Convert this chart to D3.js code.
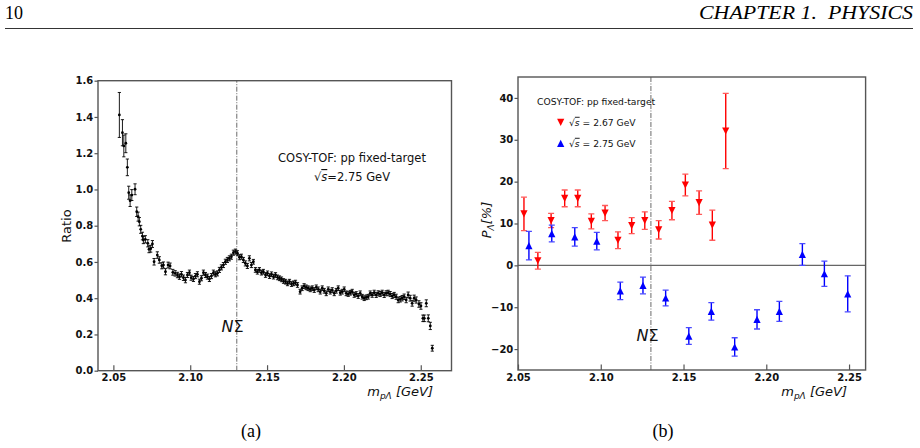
<!DOCTYPE html>
<html>
<head>
<meta charset="utf-8">
<script src="https://cdn.jsdelivr.net/npm/d3@7"></script>
<style>
  body { margin: 0; background: #fff; }
  svg { display: block; }
  text { font-family: "DejaVu Sans", sans-serif; }
</style>
</head>
<body>
<svg id="chart" width="920" height="448"></svg>
<script>
// (a) ratio vs p-Lambda invariant mass
const ratioMass = [2.0539, 2.0559, 2.0568, 2.0581, 2.0591, 2.0600, 2.0609, 2.0620,
  2.0641, 2.0652, 2.0661, 2.0669, 2.0678, 2.0689, 2.0695, 2.0708, 2.0724, 2.0732, 2.0743, 2.0754, 2.0765,
  2.0786, 2.0799, 2.0815, 2.0826, 2.0839, 2.0856, 2.0869,
  2.0887, 2.0902, 2.0917, 2.0930, 2.0943, 2.0956, 2.0969, 2.0982, 2.0995, 2.1006,
  2.1021, 2.1034, 2.1047, 2.1060, 2.1073, 2.1086, 2.1099, 2.1112, 2.1125, 2.1138,
  2.1151, 2.1164, 2.1177, 2.1190, 2.1203, 2.1216, 2.1229, 2.1242, 2.1255, 2.1268,
  2.1281, 2.1294, 2.1307, 2.1320, 2.1333, 2.1346, 2.1359, 2.1372, 2.1385, 2.1398,
  2.1411, 2.1424, 2.1437, 2.1450, 2.1463, 2.1476, 2.1490, 2.1503, 2.1516, 2.1529,
  2.1542, 2.1555, 2.1568, 2.1581, 2.1594, 2.1607, 2.1620, 2.1633, 2.1646, 2.1659,
  2.1672, 2.1685, 2.1698, 2.1715, 2.1728, 2.1741, 2.1754, 2.1767, 2.1781, 2.1794,
  2.1807, 2.1820, 2.1833, 2.1846, 2.1859, 2.1872, 2.1885, 2.1898, 2.1911, 2.1924,
  2.1937, 2.1950, 2.1963, 2.1976, 2.1989, 2.2002, 2.2015, 2.2028, 2.2041, 2.2054,
  2.2067, 2.2080, 2.2093, 2.2106, 2.2119, 2.2132, 2.2145, 2.2158, 2.2171, 2.2184,
  2.2197, 2.2210, 2.2223, 2.2236, 2.2249, 2.2262, 2.2275, 2.2288, 2.2301, 2.2314,
  2.2327, 2.2340, 2.2353, 2.2366, 2.2379, 2.2392, 2.2405, 2.2418, 2.2431, 2.2444,
  2.2457, 2.2470, 2.2488, 2.2501, 2.2514, 2.2523, 2.2536, 2.2549, 2.2562, 2.2575];
const ratioVal = [1.411, 1.313, 1.240, 1.255, 1.122, 0.982, 0.938, 0.969,
  1.001, 0.877, 0.850, 0.822, 0.780, 0.743, 0.721, 0.725, 0.703, 0.670, 0.673, 0.699, 0.601,
  0.638, 0.611, 0.579, 0.583, 0.546, 0.583, 0.578,
  0.543, 0.537, 0.528, 0.519, 0.532, 0.513, 0.500, 0.528, 0.541, 0.513,
  0.506, 0.522, 0.532, 0.491, 0.510, 0.541, 0.528, 0.519, 0.506, 0.522,
  0.541, 0.532, 0.537, 0.556, 0.570, 0.583, 0.601, 0.611, 0.620, 0.629,
  0.651, 0.657, 0.648, 0.626, 0.629, 0.611, 0.592, 0.578, 0.620, 0.583,
  0.601, 0.556, 0.546, 0.556, 0.541, 0.546, 0.528, 0.537, 0.522, 0.532,
  0.519, 0.528, 0.515, 0.510, 0.504, 0.495, 0.491, 0.482, 0.491, 0.478,
  0.482, 0.486, 0.473, 0.436, 0.455, 0.467, 0.460, 0.455, 0.449, 0.455,
  0.445, 0.460, 0.449, 0.436, 0.455, 0.441, 0.427, 0.449, 0.436, 0.445,
  0.427, 0.441, 0.455, 0.430, 0.436, 0.449, 0.427, 0.423, 0.430, 0.436,
  0.418, 0.423, 0.412, 0.427, 0.408, 0.400, 0.405, 0.408, 0.427, 0.418,
  0.430, 0.418, 0.427, 0.423, 0.430, 0.418, 0.427, 0.430, 0.423, 0.412,
  0.418, 0.408, 0.390, 0.394, 0.400, 0.408, 0.390, 0.418, 0.400, 0.372,
  0.400, 0.390, 0.368, 0.357, 0.289, 0.289, 0.372, 0.289, 0.247, 0.124];
const ratioErr = [0.124, 0.072, 0.060, 0.052, 0.046, 0.036, 0.032, 0.030,
  0.030, 0.026, 0.025, 0.023, 0.022, 0.021, 0.020, 0.020, 0.020, 0.019, 0.019, 0.019, 0.018,
  0.018, 0.018, 0.017, 0.017, 0.017, 0.016, 0.016,
  0.016, 0.015, 0.015, 0.015, 0.015, 0.015, 0.015, 0.014, 0.014, 0.014,
  0.014, 0.014, 0.014, 0.014, 0.014, 0.014, 0.014, 0.014, 0.014, 0.014,
  0.014, 0.014, 0.014, 0.014, 0.014, 0.014, 0.014, 0.014, 0.014, 0.014,
  0.014, 0.014, 0.014, 0.014, 0.014, 0.014, 0.014, 0.014, 0.014, 0.014,
  0.013, 0.013, 0.013, 0.013, 0.013, 0.013, 0.013, 0.013, 0.013, 0.013,
  0.013, 0.013, 0.013, 0.013, 0.013, 0.013, 0.013, 0.013, 0.013, 0.013,
  0.013, 0.013, 0.013, 0.013, 0.013, 0.013, 0.013, 0.013, 0.013, 0.013,
  0.013, 0.013, 0.013, 0.013, 0.013, 0.013, 0.013, 0.013, 0.013, 0.013,
  0.013, 0.013, 0.013, 0.013, 0.013, 0.013, 0.013, 0.013, 0.013, 0.013,
  0.013, 0.013, 0.013, 0.013, 0.013, 0.013, 0.013, 0.013, 0.013, 0.013,
  0.014, 0.014, 0.014, 0.014, 0.014, 0.014, 0.014, 0.014, 0.014, 0.014,
  0.014, 0.014, 0.015, 0.015, 0.015, 0.015, 0.015, 0.016, 0.016, 0.016,
  0.017, 0.017, 0.018, 0.018, 0.018, 0.018, 0.019, 0.019, 0.020, 0.016];

// (b) Lambda polarisation, two beam energies
const polMass267 = [2.0536, 2.0620, 2.0700, 2.0782, 2.0861, 2.0943, 2.1026, 2.1104,
  2.1187, 2.1266, 2.1350, 2.1430, 2.1511, 2.1594, 2.1674, 2.1755];
const pol267 = [12.3, 1.1, 10.7, 16.0, 16.0, 10.5, 12.5, 6.0, 9.5, 10.7, 8.5, 13.1, 19.2, 15.0, 9.6, 32.1];
const err267 = [4.0, 2.0, 1.7, 2.0, 2.0, 1.8, 1.8, 2.0, 1.9, 2.1, 2.2, 2.2, 2.6, 2.8, 3.6, 9.0];

const polMass275 = [2.0566, 2.0704, 2.0843, 2.0976, 2.1118, 2.1255, 2.1392, 2.1532,
  2.1668, 2.1809, 2.1944, 2.2079, 2.2218, 2.2351, 2.2492];
const pol275 = [4.7, 7.6, 6.8, 5.8, -6.1, -4.8, -7.8, -16.9, -11.0, -19.5, -12.9, -11.0, 2.6, -2.0, -6.8];
const err275 = [3.4, 2.0, 2.2, 2.1, 2.1, 2.0, 1.9, 2.0, 2.1, 2.2, 2.3, 2.4, 2.6, 3.0, 4.3];

const massNSigma = 2.1303;
const ticksA_x = [2.05, 2.10, 2.15, 2.20, 2.25];
const ticksA_y = [0, 0.2, 0.4, 0.6, 0.8, 1.0, 1.2, 1.4, 1.6];
const ticksB_x = [2.05, 2.10, 2.15, 2.20, 2.25];
const ticksB_y = [-20, -10, 0, 10, 20, 30, 40];

const svg = d3.select("#chart");
svg.append("rect").attr("width", 920).attr("height", 448).attr("fill", "#fff");

const spine = "#555";
const serif = "'Liberation Serif', 'Times New Roman', serif";

// page header, like the thesis page it was cut from
svg.append("text").attr("x", 5).attr("y", 19)
  .style("font-family", serif).style("font-size", "18px")
  .text("10");
svg.append("text").attr("x", 913).attr("y", 19).attr("text-anchor", "end")
  .style("font-family", serif).style("font-size", "19px")
  .style("font-style", "italic").style("white-space", "pre")
  .attr("textLength", 214).attr("lengthAdjust", "spacingAndGlyphs")
  .text("CHAPTER 1.  PHYSICS");
svg.append("line").attr("x1", 5).attr("x2", 913).attr("y1", 28.5).attr("y2", 28.5)
  .attr("stroke", "#000").attr("stroke-width", 0.8);

function style_axis(g){
  g.select(".domain").remove();
  g.selectAll(".tick line").attr("stroke", spine).attr("stroke-width", 1.2);
  g.selectAll(".tick text").style("font-family", "'DejaVu Sans', sans-serif")
    .style("font-size", "10px").style("font-weight", "bold").attr("fill", "#111");
}

function draw_axes(x, y, xt, yt, xf, yf){
  var x0 = x.range()[0], x1 = x.range()[1];
  var y0 = y.range()[0], y1 = y.range()[1];
  svg.append("g").attr("transform", "translate(0," + y0 + ")")
    .call(d3.axisBottom(x).tickValues(xt).tickFormat(xf).tickSizeInner(-5.5).tickPadding(3.5))
    .call(style_axis);
  svg.append("g").attr("transform", "translate(" + x0 + ",0)")
    .call(d3.axisLeft(y).tickValues(yt).tickFormat(yf).tickSizeInner(3.5).tickPadding(1.2))
    .call(style_axis);
  svg.append("rect").attr("x", x0).attr("y", y1)
    .attr("width", x1 - x0).attr("height", y0 - y1)
    .attr("fill", "none").attr("stroke", spine).attr("stroke-width", 1.4);
}

function mass_label(xr, yb){
  var t = svg.append("text").attr("x", xr).attr("y", yb).attr("text-anchor", "end")
    .style("font-style", "italic").style("font-size", "13px").attr("fill", "#111");
  t.append("tspan").text("m");
  t.append("tspan").attr("dy", 3).style("font-size", "9px").text("pΛ");
  t.append("tspan").attr("dy", -3).text(" [GeV]");
}

function nsigma(x, y, xpos, ypos){
  svg.append("line").attr("x1", x(massNSigma)).attr("x2", x(massNSigma))
    .attr("y1", y.range()[0]).attr("y2", y.range()[1])
    .attr("stroke", "#444").attr("stroke-width", 0.8)
    .attr("stroke-dasharray", "5,1.5,1,1.5");
  var t = svg.append("text").attr("x", xpos).attr("y", ypos)
    .style("font-size", "16px").attr("fill", "#111");
  t.append("tspan").style("font-style", "italic").text("N");
  t.append("tspan").text("Σ");
}

function sqrt_s(t){
  t.append("tspan").text("√");
  t.append("tspan").style("font-style", "italic")
    .style("text-decoration", "overline").text("s");
}

// ---------------- panel (a)
var xa = d3.scaleLinear().domain([2.04, 2.27]).range([98, 451.5]);
var ya = d3.scaleLinear().domain([0, 1.6]).range([370.7, 80.7]);

nsigma(xa, ya, 221.5, 331.5);

var ptsA = ratioMass.map(function(m, i){ return {m: m, v: ratioVal[i], e: ratioErr[i]}; });
var ga = svg.append("g");
ga.selectAll(".eb").data(ptsA).enter().append("path")
  .attr("d", function(d){
    var cx = xa(d.m), t = ya(d.v + d.e), b = ya(d.v - d.e);
    return "M" + cx + "," + t + "V" + b +
      "M" + (cx - 1.6) + "," + t + "h3.2" +
      "M" + (cx - 1.6) + "," + b + "h3.2";
  })
  .attr("stroke", "#000").attr("stroke-width", 0.9).attr("fill", "none");
ga.selectAll("circle").data(ptsA).enter().append("circle")
  .attr("cx", function(d){ return xa(d.m); })
  .attr("cy", function(d){ return ya(d.v); })
  .attr("r", 1.4).attr("fill", "#000");

draw_axes(xa, ya, ticksA_x, ticksA_y, d3.format(".2f"), d3.format(".1f"));

svg.append("text").attr("transform", "translate(71,226) rotate(-90)")
  .attr("text-anchor", "middle").style("font-size", "13px").attr("fill", "#111")
  .text("Ratio");
mass_label(433, 396);

svg.append("text").attr("x", 352).attr("y", 162).attr("text-anchor", "middle")
  .style("font-size", "11.5px").attr("fill", "#111")
  .text("COSY-TOF: pp fixed-target");
var sa = svg.append("text").attr("x", 352).attr("y", 181).attr("text-anchor", "middle")
  .style("font-size", "11.5px").attr("fill", "#111");
sqrt_s(sa);
sa.append("tspan").text("=2.75 GeV");

// ---------------- panel (b)
var xb = d3.scaleLinear().domain([2.05, 2.26]).range([518, 865.6]);
var yb = d3.scaleLinear().domain([-25, 45]).range([370, 77]);

svg.append("line").attr("x1", xb.range()[0]).attr("x2", xb.range()[1])
  .attr("y1", yb(0)).attr("y2", yb(0))
  .attr("stroke", "#666").attr("stroke-width", 1.2);
nsigma(xb, yb, 636.5, 341);

function tri(up){
  var s = 3.6;
  return up ? "M0," + (-s) + "L" + s + "," + s + "L" + (-s) + "," + s + "Z"
            : "M0," + s + "L" + s + "," + (-s) + "L" + (-s) + "," + (-s) + "Z";
}

function pol_series(mass, val, err, col, capcol, up){
  var pts = mass.map(function(m, i){ return {m: m, v: val[i], e: err[i]}; });
  var g = svg.append("g");
  g.selectAll(".bar").data(pts).enter().append("line")
    .attr("x1", function(d){ return xb(d.m); }).attr("x2", function(d){ return xb(d.m); })
    .attr("y1", function(d){ return yb(d.v + d.e); })
    .attr("y2", function(d){ return yb(d.v - d.e); })
    .attr("stroke", col).attr("stroke-width", 1.4);
  g.selectAll(".cap").data(pts).enter().append("path")
    .attr("d", function(d){
      var cx = xb(d.m);
      return "M" + (cx - 3) + "," + yb(d.v + d.e) + "h6" +
        "M" + (cx - 3) + "," + yb(d.v - d.e) + "h6";
    })
    .attr("stroke", capcol).attr("stroke-width", 1.3).attr("fill", "none");
  g.selectAll(".mk").data(pts).enter().append("path")
    .attr("transform", function(d){ return "translate(" + xb(d.m) + "," + yb(d.v) + ")"; })
    .attr("d", tri(up)).attr("fill", col);
}
pol_series(polMass267, pol267, err267, "#ff0000", "#ff5a5a", false);
pol_series(polMass275, pol275, err275, "#0000ff", "#4a4aff", true);

draw_axes(xb, yb, ticksB_x, ticksB_y, d3.format(".2f"), d3.format("d"));

var pl = svg.append("text").attr("transform", "translate(491,220) rotate(-90)")
  .attr("text-anchor", "middle").style("font-size", "13px")
  .style("font-style", "italic").attr("fill", "#111");
pl.append("tspan").text("P");
pl.append("tspan").attr("dy", 3).style("font-size", "9px").text("Λ");
pl.append("tspan").attr("dy", -3).text("[%]");
mass_label(847, 396);

// legend
svg.append("text").attr("x", 537).attr("y", 105)
  .style("font-size", "9.2px").attr("fill", "#111")
  .text("COSY-TOF: pp fixed-target");
var legend = [
  {label: "= 2.67 GeV", col: "#ff0000", up: false, y: 122.3},
  {label: "= 2.75 GeV", col: "#0000ff", up: true, y: 143.3}
];
legend.forEach(function(l){
  svg.append("path").attr("transform", "translate(560.7," + l.y + ")")
    .attr("d", tri(l.up)).attr("fill", l.col);
  var t = svg.append("text").attr("x", 569).attr("y", l.y + 3.5)
    .style("font-size", "9.2px").attr("fill", "#111");
  sqrt_s(t);
  t.append("tspan").text(" " + l.label);
});

// sub-figure captions
svg.append("text").attr("x", 251).attr("y", 437).attr("text-anchor", "middle")
  .style("font-family", serif).style("font-size", "18px").text("(a)");
svg.append("text").attr("x", 663).attr("y", 437).attr("text-anchor", "middle")
  .style("font-family", serif).style("font-size", "18px").text("(b)");
</script>
</body>
</html>
